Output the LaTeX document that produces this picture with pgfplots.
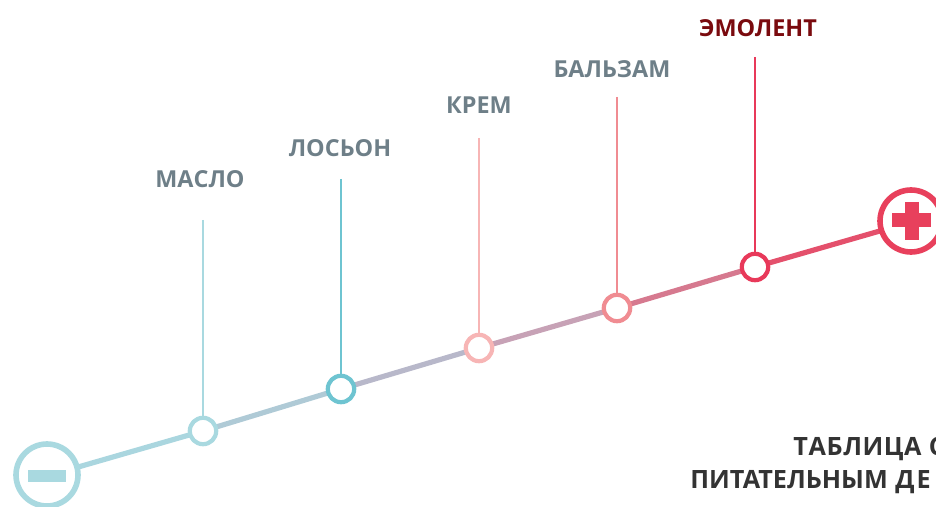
\documentclass[border=0pt]{standalone}
\usepackage{pgfplots}
\pgfplotsset{compat=1.18}
\usepackage{fontspec}
\setmainfont{Open Sans}[BoldFont={Open Sans Bold}]
\definecolor{lbl}{HTML}{6E7F88}
\definecolor{emo}{HTML}{7A0A0E}
\definecolor{dark}{HTML}{333333}
\definecolor{cMinus}{HTML}{A9D9E0}
\definecolor{cMaslo}{HTML}{A9D9E0}
\definecolor{cLos}{HTML}{6EC4D1}
\definecolor{cKrem}{HTML}{F7B5B5}
\definecolor{cBal}{HTML}{F08C92}
\definecolor{cEmo}{HTML}{E8395A}
\definecolor{cPlus}{HTML}{E8405C}
\definecolor{s1}{HTML}{AAD6DF}
\definecolor{s2}{HTML}{AFCAD6}
\definecolor{s3}{HTML}{B8B8CA}
\definecolor{s4}{HTML}{C7A2B6}
\definecolor{s5}{HTML}{D6798F}
\definecolor{s6}{HTML}{E4506C}
\newcommand{\lf}{\bfseries\fontsize{11.7}{14}\selectfont}
\newcommand{\bt}{\bfseries\fontsize{12.6}{14}\selectfont}
\begin{document}
\begin{tikzpicture}
\useasboundingbox (0,0) rectangle (468pt,253.5pt);
\clip (0,0) rectangle (468pt,253.5pt);
\begin{axis}[
  at={(0,0)}, anchor=south west,
  scale only axis, width=468pt, height=253.5pt,
  xmin=0, xmax=936, ymin=0, ymax=507, y dir=reverse,
  hide axis, clip=false, clip mode=individual,
]
% vertical stems
\addplot[cMaslo, line width=1.4pt] coordinates {(203,220) (203,416)};
\addplot[cLos, line width=1.4pt] coordinates {(341,179) (341,374)};
\addplot[cKrem, line width=1.4pt] coordinates {(479,138) (479,333)};
\addplot[cBal, line width=1.4pt] coordinates {(617,97) (617,293)};
\addplot[cEmo, line width=1.4pt] coordinates {(755,57) (755,252)};
% gradient line segments
\addplot[s1, line width=2.6pt] coordinates {(47,476) (203,431)};
\addplot[s2, line width=2.6pt] coordinates {(203,431) (341,389)};
\addplot[s3, line width=2.6pt] coordinates {(341,389) (479,348)};
\addplot[s4, line width=2.6pt] coordinates {(479,348) (617,308)};
\addplot[s5, line width=2.6pt] coordinates {(617,308) (755,267)};
\addplot[s6, line width=2.6pt] coordinates {(755,267) (911,222)};
% small circles
\addplot[only marks, mark=*, mark size=6.6pt, mark options={draw=cMaslo, fill=white, line width=2.1pt}] coordinates {(203,431)};
\addplot[only marks, mark=*, mark size=6.6pt, mark options={draw=cLos, fill=white, line width=2.1pt}] coordinates {(341,389)};
\addplot[only marks, mark=*, mark size=6.6pt, mark options={draw=cKrem, fill=white, line width=2.1pt}] coordinates {(479,348)};
\addplot[only marks, mark=*, mark size=6.6pt, mark options={draw=cBal, fill=white, line width=2.1pt}] coordinates {(617,308)};
\addplot[only marks, mark=*, mark size=6.6pt, mark options={draw=cEmo, fill=white, line width=2.1pt}] coordinates {(755,267)};
% big circles
\addplot[only marks, mark=*, mark size=15.5pt, mark options={draw=cMinus, fill=white, line width=2.8pt}] coordinates {(47,475)};
\addplot[only marks, mark=*, mark size=15.5pt, mark options={draw=cPlus, fill=white, line width=2.8pt}] coordinates {(911,221)};
% minus and plus signs
\addplot[cMinus, line width=6pt] coordinates {(28,476) (66,476)};
\addplot[cPlus, line width=7pt] coordinates {(892,220) (931,220)};
\addplot[cPlus, line width=7pt] coordinates {(912,202) (912,240)};
% labels
\node[lbl, anchor=base, font=\lf] at (axis cs:200,188) {МАСЛО};
\node[lbl, anchor=base, font=\lf] at (axis cs:340,157) {ЛОСЬОН};
\node[lbl, anchor=base, font=\lf] at (axis cs:479,114) {КРЕМ};
\node[lbl, anchor=base, font=\lf] at (axis cs:612,78) {БАЛЬЗАМ};
\node[emo, anchor=base, font=\lf] at (axis cs:758,37) {ЭМОЛЕНТ};
\node[dark, anchor=base west, inner sep=0pt, font=\bt] at (axis cs:793,455) {Т\kern0.3ptА\kern0.3ptБ\kern0.3ptЛ\kern0.3ptИ\kern0.3ptЦ\kern0.3ptА\kern0.3pt{} С};
\node[dark, anchor=base west, inner sep=0pt, font=\bt] at (axis cs:690,488) {ПИТАТЕЛЬНЫМ \kern0.5ptД\kern1ptЕ};
\end{axis}
\end{tikzpicture}
\end{document}
